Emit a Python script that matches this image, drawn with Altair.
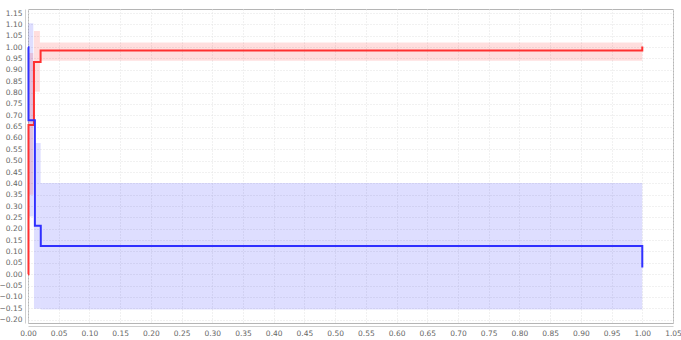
import altair as alt
import pandas as pd

# Step lines
red_x = [0.0, 0.0008, 0.0097, 0.0205, 0.9995, 1.0]
red_y = [0.0, 0.657, 0.935, 0.985, 0.985, 1.003]
blue_x = [0.0, 0.0008, 0.0112, 0.0208, 0.9995, 1.0]
blue_y = [1.0, 0.678, 0.213, 0.124, 0.124, 0.03]

# Confidence bands (step segments)
red_band_x0 = [0.0005, 0.0097, 0.0194]
red_band_x1 = [0.0086, 0.0194, 1.0]
red_band_lo = [0.35, 0.804, 0.94]
red_band_hi = [0.974, 1.071, 1.02]

blue_band_x0 = [0.0005, 0.0097, 0.0206]
blue_band_x1 = [0.0086, 0.0206, 1.0]
blue_band_lo = [0.254, -0.152, -0.156]
blue_band_hi = [1.105, 0.578, 0.402]

x_ticks = [0.00, 0.05, 0.10, 0.15, 0.20, 0.25, 0.30, 0.35, 0.40, 0.45, 0.50,
           0.55, 0.60, 0.65, 0.70, 0.75, 0.80, 0.85, 0.90, 0.95, 1.00, 1.05]
y_ticks = [-0.20, -0.15, -0.10, -0.05, 0.00, 0.05, 0.10, 0.15, 0.20, 0.25, 0.30,
           0.35, 0.40, 0.45, 0.50, 0.55, 0.60, 0.65, 0.70, 0.75, 0.80, 0.85,
           0.90, 0.95, 1.00, 1.05, 1.10, 1.15]

lines = pd.concat([
    pd.DataFrame({"x": red_x, "y": red_y, "s": "red", "o": range(len(red_x))}),
    pd.DataFrame({"x": blue_x, "y": blue_y, "s": "blue", "o": range(len(blue_x))}),
])
bands = pd.concat([
    pd.DataFrame({"x0": blue_band_x0, "x1": blue_band_x1, "lo": blue_band_lo,
                  "hi": blue_band_hi, "s": "blue"}),
    pd.DataFrame({"x0": red_band_x0, "x1": red_band_x1, "lo": red_band_lo,
                  "hi": red_band_hi, "s": "red"}),
])

xs = alt.Scale(domain=[0, 1.05], nice=False, zero=False)
ys = alt.Scale(domain=[-0.215, 1.168], nice=False, zero=False)
col = alt.Scale(domain=["red", "blue"], range=["#ff3030", "#3030ff"])

common = dict(format=".2f", title=None, labelFontSize=7.5, labelColor="#666",
              gridColor="#e2e2e2", gridDash=[1, 2], domain=True,
              domainColor="#cfcfcf", domainWidth=1, offset=3,
              ticks=False, labelPadding=3, labelFont="DejaVu Sans",
              labelOverlap=False, labelFlush=False, labelBound=False)

band_layer = alt.Chart(bands).mark_rect(opacity=0.13).encode(
    x=alt.X("x0:Q", scale=xs, axis=alt.Axis(values=x_ticks, **common)),
    x2="x1:Q",
    y=alt.Y("lo:Q", scale=ys, axis=alt.Axis(values=y_ticks, **common)),
    y2="hi:Q",
    color=alt.Color("s:N", scale=alt.Scale(domain=["red", "blue"], range=["#ff0000", "#0000ff"]), legend=None),
)

line_layer = alt.Chart(lines).mark_line(interpolate="step-after", strokeWidth=2).encode(
    x=alt.X("x:Q", scale=xs, axis=alt.Axis(values=x_ticks, **common)),
    y=alt.Y("y:Q", scale=ys, axis=alt.Axis(values=y_ticks, **common)),
    color=alt.Color("s:N", scale=col, legend=None),
    order="o:Q",
    detail="s:N",
)

chart = alt.layer(band_layer, line_layer).resolve_scale(color="independent").properties(
    width=645, height=314,
    autosize=alt.AutoSizeParams(type="none"),
    padding={"left": 28, "top": 9, "right": 8, "bottom": 17},
    background="white",
).configure_view(stroke="#b5b5b5", strokeWidth=1)

chart.save("out.html", embed_options={"renderer": "svg", "actions": False})
